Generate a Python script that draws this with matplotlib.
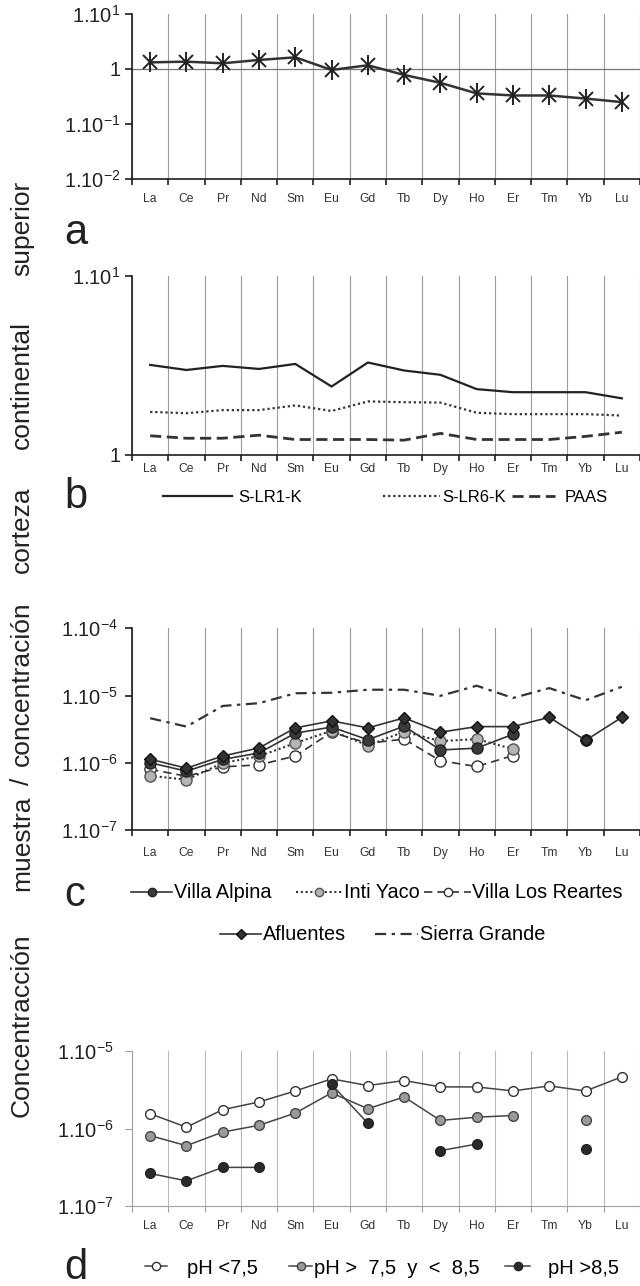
import numpy as np
import matplotlib
matplotlib.use("Agg")
import matplotlib.pyplot as plt
from matplotlib.ticker import NullLocator

plt.rcParams['font.family'] = ['Liberation Sans', 'DejaVu Sans']
plt.rcParams['mathtext.fontset'] = 'custom'
plt.rcParams['mathtext.rm'] = 'Liberation Sans'
plt.rcParams['mathtext.default'] = 'regular'

nan = np.nan
elementos = ['La', 'Ce', 'Pr', 'Nd', 'Sm', 'Eu', 'Gd', 'Tb', 'Dy', 'Ho', 'Er', 'Tm', 'Yb', 'Lu']

# a: muestra / corteza continental superior
corteza = [1.32, 1.36, 1.27, 1.46, 1.63, 0.96, 1.17, 0.78, 0.56, 0.36, 0.33, 0.33, 0.29, 0.25]

# b
s_lr1_k = [3.18, 2.98, 3.14, 3.02, 3.22, 2.41, 3.28, 2.96, 2.80, 2.33, 2.24, 2.24, 2.24, 2.07]
s_lr6_k = [1.74, 1.71, 1.78, 1.78, 1.89, 1.76, 1.99, 1.97, 1.96, 1.72, 1.69, 1.69, 1.69, 1.66]
paas = [1.28, 1.24, 1.24, 1.29, 1.22, 1.22, 1.22, 1.21, 1.32, 1.22, 1.22, 1.22, 1.27, 1.34]

# c (x 1e-6)
villa_alpina = [1.00, 0.75, 1.12, 1.40, 2.75, 3.40, 2.20, 3.50, 1.55, 1.65, 2.65, nan, 2.20, nan]
inti_yaco = [0.64, 0.56, 0.99, 1.25, 1.96, 3.00, 1.80, 2.90, 2.10, 2.25, 1.60, nan, nan, nan]
villa_los_reartes = [0.80, 0.63, 0.87, 0.93, 1.26, 2.85, 1.95, 2.25, 1.07, 0.88, 1.28, nan, nan, nan]
afluentes = [1.13, 0.83, 1.26, 1.66, 3.30, 4.20, 3.30, 4.65, 2.85, 3.45, 3.45, 4.75, 2.15, 4.75]
sierra_grande = [4.6, 3.45, 7.0, 7.7, 10.8, 11.0, 12.2, 12.2, 9.9, 14.0, 9.2, 12.9, 8.5, 13.5]

# d (x 1e-6)
ph_bajo = [1.55, 1.04, 1.75, 2.20, 3.05, 4.37, 3.58, 4.16, 3.44, 3.44, 3.05, 3.55, 3.05, 4.64]
ph_medio = [0.81, 0.60, 0.90, 1.10, 1.58, 2.88, 1.80, 2.55, 1.27, 1.40, 1.47, nan, 1.27, nan]
ph_alto = [0.263, 0.211, 0.315, 0.315, nan, 3.70, 1.17, nan, 0.518, 0.63, nan, nan, 0.55, nan]

W, H = 640, 1286
fig = plt.figure(figsize=(W / 100, H / 100), dpi=100)
x = np.arange(len(elementos))


def caja(top, bottom, left=132, right=640):
    return [left / W, 1 - bottom / H, (right - left) / W, (bottom - top) / H]


def base(ax, ylim, yticks, ylabels, xpad, ypad=3, claro=False):
    ax.set_yscale('log')
    ax.set_ylim(*ylim)
    ax.set_xlim(-0.5, -0.5 + 508 / 36.5)
    ax.spines['top'].set_visible(False)
    ax.spines['right'].set_visible(False)
    col = '#a0a0a0' if claro else '#1e1e1e'
    lw = 0.8 if claro else 1.2
    for s in ['left', 'bottom']:
        ax.spines[s].set_color(col)
        ax.spines[s].set_linewidth(lw)
    ax.set_xticks(np.arange(-0.5, 14, 1))
    ax.set_xticklabels([])
    ax.set_xticks(x, minor=True)
    ax.set_xticklabels(elementos, minor=True)
    ax.tick_params(axis='x', which='major', length=4, width=lw, color=col)
    ax.tick_params(axis='x', which='minor', length=0, pad=xpad, labelsize=8.7, labelcolor='#333333')
    ax.xaxis.grid(True, which='major', color='#b8b8b8' if claro else '#9c9c9c', lw=0.8)
    ax.set_yticks(yticks)
    ax.set_yticklabels(ylabels)
    ax.yaxis.set_minor_locator(NullLocator())
    ax.tick_params(axis='y', length=5, width=lw, color=col, pad=ypad, labelsize=14.5, labelcolor='#222222')
    ax.set_axisbelow(True)


def item(h, label, x0, y, largo, fs, sep, escala=1.0):
    # una entrada de leyenda colocada en pixeles de la figura
    fpx = fs * 100 / 72
    fig.legend(handles=[h], labels=[label], loc='center left',
               bbox_to_anchor=(x0 / W, 1 - y / H), frameon=False, fontsize=fs,
               handlelength=largo / fpx, handletextpad=sep / fpx, borderpad=0,
               borderaxespad=0, numpoints=1, markerscale=escala)


# ---- a
ax_a = fig.add_axes(caja(14, 179))
base(ax_a, (1e-2, 1e1), [1e-2, 1e-1, 1, 1e1],
     ['1.10$^{-2}$', '1.10$^{-1}$', '1', '1.10$^{1}$'], xpad=10)
ax_a.axhline(1, color='#777777', lw=0.9, zorder=1)
ax_a.plot(x, corteza, color='#333333', lw=1.8, zorder=3)
ax_a.plot(x, corteza, ls='none', marker='x', ms=10, mew=1.4, color='#222222', zorder=4)
ax_a.plot(x, corteza, ls='none', marker='|', ms=14, mew=1.4, color='#222222', zorder=4)

# ---- b
ax_b = fig.add_axes(caja(275.7, 455))
base(ax_b, (1, 10), [1, 10], ['1', '1.10$^{1}$'], xpad=6)
l1, = ax_b.plot(x, s_lr1_k, color='#222222', lw=1.6)
l2, = ax_b.plot(x, s_lr6_k, color='#333333', lw=1.6, ls=(0, (1, 1.3)))
l3, = ax_b.plot(x, paas, color='#333333', lw=2.0, ls=(0, (4, 2)))
item(l1, 'S-LR1-K', 163, 497, 69, 12, 6)
item(l2, 'S-LR6-K', 383, 497, 57, 12, 2)
item(l3, 'PAAS', 512, 497, 43, 12, 10)

# ---- c
ax_c = fig.add_axes(caja(628.3, 830))
base(ax_c, (1e-7, 1e-4), [1e-7, 1e-6, 1e-5, 1e-4],
     ['1.10$^{-7}$', '1.10$^{-6}$', '1.10$^{-5}$', '1.10$^{-4}$'], xpad=12, ypad=5)
esc = 1e-6
sg, = ax_c.plot(x, np.array(sierra_grande) * esc, color='#333333', lw=1.6,
                ls=(0, (5, 2.5, 1.5, 2.5)))
vr, = ax_c.plot(x, np.array(villa_los_reartes) * esc, color='#333333', lw=1.2, ls=(0, (5, 3)),
                marker='o', ms=8, mfc='white', mec='#333333', mew=1.0)
iy, = ax_c.plot(x, np.array(inti_yaco) * esc, color='#333333', lw=1.5, ls=(0, (1, 1.3)),
                marker='o', ms=8, mfc='#b4b4b4', mec='#555555', mew=1.0)
va, = ax_c.plot(x, np.array(villa_alpina) * esc, color='#333333', lw=1.2,
                marker='o', ms=8, mfc='#3a3a3a', mec='#222222', mew=1.0)
af, = ax_c.plot(x, np.array(afluentes) * esc, color='#333333', lw=1.2,
                marker='D', ms=6.5, mfc='#333333', mec='#111111', mew=1.0)
item(va, 'Villa Alpina', 131, 893, 41, 14.3, 2, 0.75)
item(iy, 'Inti Yaco', 296, 893, 46, 14.3, 2, 0.75)
item(vr, 'Villa Los Reartes', 424, 893, 47, 14.3, 1, 0.75)
item(af, 'Afluentes', 220, 935, 41, 14.3, 2, 0.75)
item(sg, 'Sierra Grande', 375, 935, 43, 14.3, 2)

# ---- d
ax_d = fig.add_axes(caja(1051, 1206))
base(ax_d, (1e-7, 1e-5), [1e-7, 1e-6, 1e-5],
     ['1.10$^{-7}$', '1.10$^{-6}$', '1.10$^{-5}$'], xpad=10, ypad=8, claro=True)
p1, = ax_d.plot(x, np.array(ph_bajo) * esc, color='#444444', lw=1.1,
                marker='o', ms=7, mfc='white', mec='#333333', mew=1.0)
p2, = ax_d.plot(x, np.array(ph_medio) * esc, color='#444444', lw=1.1,
                marker='o', ms=7, mfc='#9a9a9a', mec='#444444', mew=1.0)
p3, = ax_d.plot(x, np.array(ph_alto) * esc, color='#444444', lw=1.1,
                marker='o', ms=7, mfc='#2a2a2a', mec='#222222', mew=1.0)
item(p1, 'pH <7,5', 145, 1268, 22, 14.5, 20, 0.85)
item(p2, 'pH >  7,5  y  <  8,5', 289, 1268, 23, 14.5, 2, 0.85)
item(p3, 'pH >8,5', 505, 1268, 25, 14.5, 18, 0.85)

# letras de panel
for letra, ybase in [('a', 244), ('b', 508), ('c', 906), ('d', 1279)]:
    fig.text(64 / W, 1 - ybase / H, letra, fontsize=30, ha='left', va='baseline', color='#222222')

# etiqueta vertical comun
palabras = [('Concentracción', 1025), ('muestra', 843), ('/', 781), ('concentración', 684),
            ('corteza', 530), ('continental', 385), ('superior', 228)]
for txt, yc in palabras:
    fig.text(22 / W, 1 - yc / H, txt, rotation=90, fontsize=19, ha='center', va='center',
             color='#222222')

fig.savefig('out.png', dpi=100)
